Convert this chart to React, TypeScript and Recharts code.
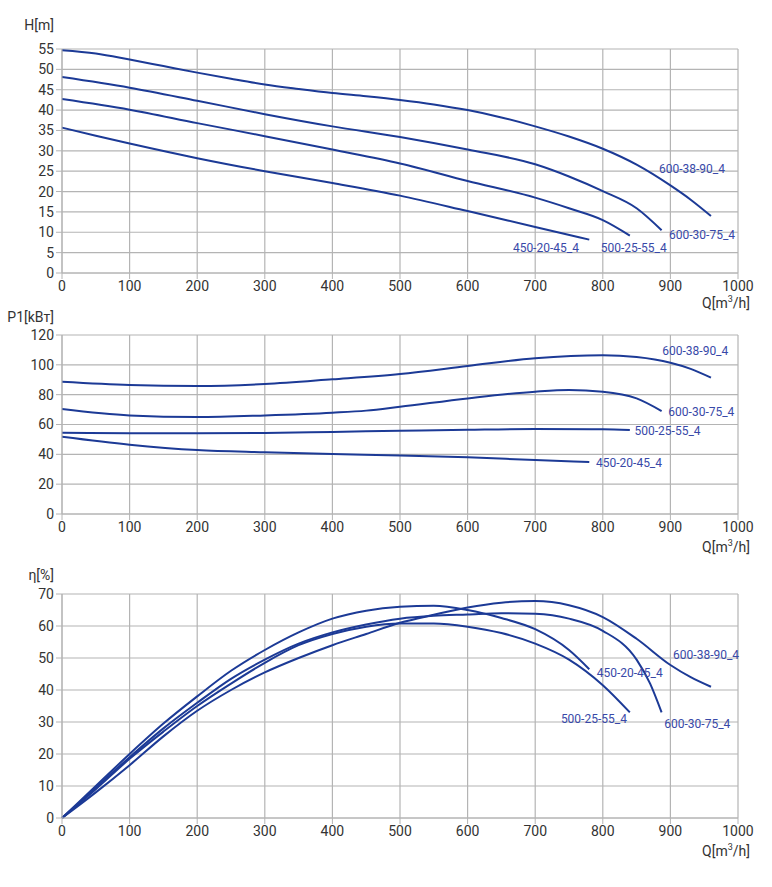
import { LineChart, Line, XAxis, YAxis, CartesianGrid, ReferenceDot } from "recharts";

type Pt = [number, number];

const qTicks = [0, 100, 200, 300, 400, 500, 600, 700, 800, 900, 1000];
const headTicks = [0, 5, 10, 15, 20, 25, 30, 35, 40, 45, 50, 55];
const powerTicks = [0, 20, 40, 60, 80, 100, 120];
const effTicks = [0, 10, 20, 30, 40, 50, 60, 70];

const pumps = ["600-38-90_4", "600-30-75_4", "500-25-55_4", "450-20-45_4"];

// H[m] vs Q
const head90: Pt[] = [[0, 54.7], [50, 53.9], [100, 52.4], [150, 50.8], [200, 49.2], [250, 47.7], [300, 46.3], [350, 45.2], [400, 44.2], [450, 43.4], [500, 42.5], [550, 41.4], [600, 40], [650, 38.2], [700, 36], [750, 33.5], [800, 30.5], [850, 26.6], [900, 21.5], [930, 18], [960, 14]];
const head75: Pt[] = [[0, 48.1], [100, 45.5], [200, 42.3], [300, 39], [400, 36], [500, 33.4], [600, 30.3], [700, 26.7], [750, 23.7], [800, 20.1], [850, 15.9], [887, 10.5]];
const head55: Pt[] = [[0, 42.7], [100, 40.1], [200, 36.8], [300, 33.6], [400, 30.3], [500, 26.9], [600, 22.6], [700, 18.5], [750, 15.9], [800, 13], [840, 9.2]];
const head45: Pt[] = [[0, 35.7], [50, 33.7], [100, 31.8], [200, 28.2], [300, 25], [400, 22.1], [500, 19], [600, 15.2], [700, 11.3], [780, 8.2]];

// P1[kW] vs Q
const power90: Pt[] = [[0, 88.7], [100, 86.5], [200, 85.8], [300, 87.1], [400, 90.3], [500, 93.9], [600, 99.2], [700, 104.4], [800, 106.4], [850, 105.2], [900, 101.4], [930, 97.3], [960, 91.4]];
const power75: Pt[] = [[0, 70.4], [100, 66.1], [200, 65], [300, 66.1], [400, 67.9], [450, 69.3], [500, 71.9], [600, 77.5], [700, 82], [750, 83.1], [800, 82], [850, 77.5], [887, 69]];
const power55: Pt[] = [[0, 54.5], [100, 54.2], [200, 54.1], [300, 54.3], [400, 55], [500, 55.8], [600, 56.5], [700, 57], [800, 56.8], [840, 56.3]];
const power45: Pt[] = [[0, 51.8], [100, 46.5], [200, 42.9], [300, 41.4], [400, 40.2], [500, 39.3], [600, 38], [700, 36.2], [780, 34.9]];

// eta[%] vs Q
const eff90: Pt[] = [[0, 0], [50, 8], [100, 16.5], [150, 25.5], [200, 33.5], [250, 40], [300, 45.5], [350, 50], [400, 54], [450, 57.5], [500, 61], [550, 63.5], [600, 65.8], [650, 67.3], [700, 67.8], [750, 66.5], [800, 62.8], [850, 56], [900, 47.8], [930, 44], [960, 41]];
const eff75: Pt[] = [[0, 0], [50, 9.5], [100, 19], [150, 28], [200, 36], [250, 43.5], [300, 49.5], [350, 54.5], [400, 58], [450, 60.5], [500, 62.3], [550, 63.2], [600, 63.6], [650, 64], [700, 63.8], [750, 62.3], [800, 58.5], [850, 49.5], [870, 42], [887, 33]];
const eff55: Pt[] = [[0, 0], [50, 9], [100, 18.5], [150, 27], [200, 35], [250, 42], [300, 48.5], [350, 54], [400, 57.5], [450, 59.8], [500, 60.8], [550, 60.8], [600, 59.8], [650, 57.8], [700, 54.5], [750, 49.5], [800, 41.5], [840, 33]];
const eff45: Pt[] = [[0, 0], [50, 10], [100, 20], [150, 29.5], [200, 38], [250, 46], [300, 52.5], [350, 58], [400, 62.3], [450, 64.8], [500, 66], [550, 66.3], [600, 65], [650, 62.5], [700, 59], [750, 52.5], [780, 46.5]];

// where each curve name sits (Q, value)
const headLabels: Pt[] = [[883, 25.5], [898, 9.3], [797, 6.3], [667, 6.3]];
const powerLabels: Pt[] = [[888, 109.3], [897, 68.8], [847, 56.1], [790, 34.4]];
const effLabels: Pt[] = [[904, 51], [891, 29.5], [738, 31], [791, 45.5]];

const LINE = "#1c3a96";
const LABEL = "#3849a8";
const GRID = "#b4b4b4";
const FONT = "Roboto, sans-serif";

const toRows = (pts: Pt[]) => pts.map(([q, v]) => ({ q, v }));

interface PanelProps {
  top: number;
  height: number;
  marginTop: number;
  ticks: number[];
  series: Pt[][];
  labels: Pt[];
  title: string;
  titleTop: number;
  unitTop: number;
}

function Panel({ top, height, marginTop, ticks, series, labels, title, titleTop, unitTop }: PanelProps) {
  const tick = { fontSize: 14, fill: "#333", fontFamily: FONT };
  return (
    <>
      <div
        style={{
          position: "absolute",
          top: titleTop,
          left: 0,
          width: 54,
          textAlign: "right",
          fontFamily: FONT,
          fontSize: 14,
          color: "#333",
          lineHeight: "16px",
        }}
      >
        {title}
      </div>
      <div style={{ position: "absolute", top, left: 0 }}>
        <LineChart width={772} height={height} margin={{ top: marginTop, right: 34, bottom: 0, left: 0 }}>
          <CartesianGrid stroke={GRID} strokeWidth={1.2} horizontalValues={ticks} verticalValues={qTicks} />
          <XAxis
            type="number"
            dataKey="q"
            domain={[0, 1000]}
            ticks={qTicks}
            allowDuplicatedCategory={false}
            height={37}
            tick={tick}
            stroke={GRID}
            tickSize={6}
            interval={0}
          />
          <YAxis
            type="number"
            domain={[ticks[0], ticks[ticks.length - 1]]}
            ticks={ticks}
            width={62}
            tick={tick}
            stroke={GRID}
            tickSize={6}
            interval={0}
          />
          {series.map((pts, i) => (
            <Line
              key={pumps[i]}
              data={toRows(pts)}
              dataKey="v"
              type="monotone"
              stroke={LINE}
              strokeWidth={2}
              dot={false}
              activeDot={false}
              isAnimationActive={false}
            />
          ))}
          {labels.map(([q, v], i) => (
            <ReferenceDot
              key={"l" + pumps[i]}
              x={q}
              y={v}
              r={0}
              fill="none"
              stroke="none"
              label={{ value: pumps[i], position: "right", offset: 0, fill: LABEL, fontSize: 12, fontFamily: FONT }}
            />
          ))}
        </LineChart>
      </div>
      <div
        style={{
          position: "absolute",
          top: unitTop,
          left: 650,
          width: 100,
          textAlign: "right",
          fontFamily: FONT,
          fontSize: 14,
          color: "#333",
          lineHeight: "16px",
        }}
      >
        Q[m<sup style={{ fontSize: 9, verticalAlign: "6px", lineHeight: 0 }}>3</sup>/h]
      </div>
    </>
  );
}

export default function App() {
  return (
    <div style={{ position: "absolute", left: 0, top: 0, width: 772, height: 887, background: "#fff" }}>
      <Panel
        top={0}
        height={310}
        marginTop={49}
        ticks={headTicks}
        series={[head90, head75, head55, head45]}
        labels={headLabels}
        title="H[m]"
        titleTop={17}
        unitTop={295}
      />
      <Panel
        top={300}
        height={251}
        marginTop={35}
        ticks={powerTicks}
        series={[power90, power75, power55, power45]}
        labels={powerLabels}
        title="P1[kBт]"
        titleTop={309}
        unitTop={539}
      />
      <Panel
        top={560}
        height={295}
        marginTop={34}
        ticks={effTicks}
        series={[eff90, eff75, eff55, eff45]}
        labels={effLabels}
        title="η[%]"
        titleTop={567}
        unitTop={843}
      />
    </div>
  );
}
